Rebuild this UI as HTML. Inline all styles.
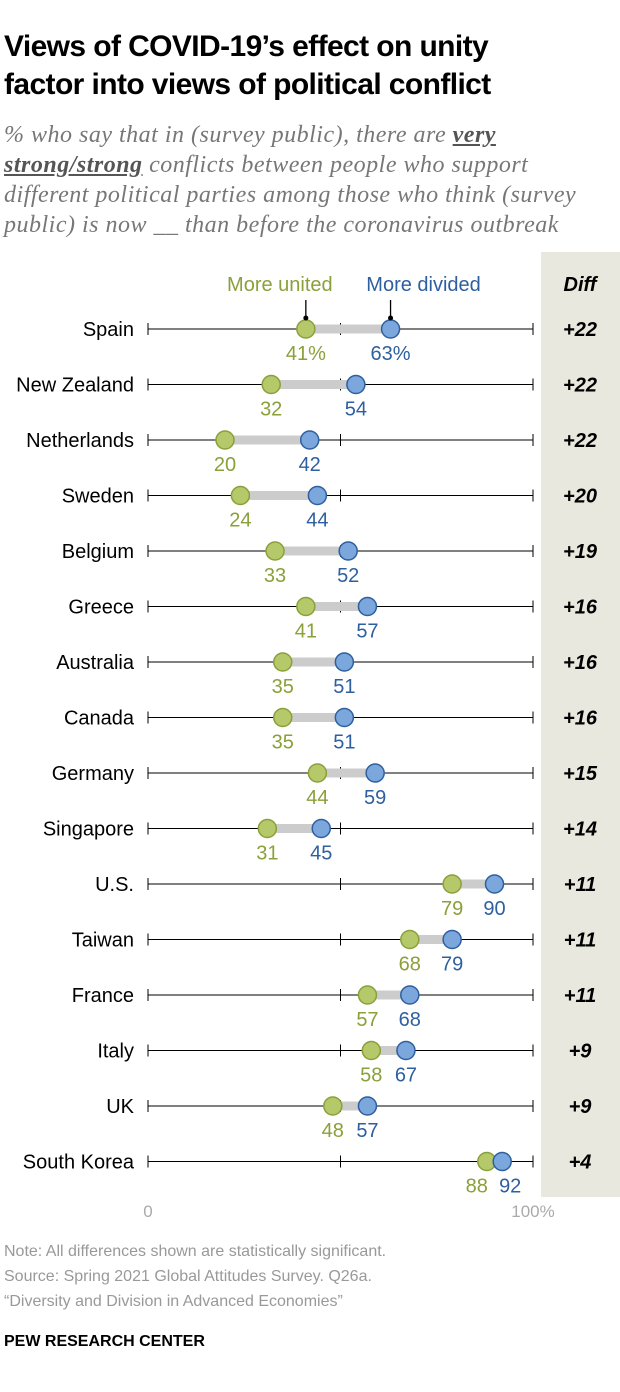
<!DOCTYPE html>
<html><head><meta charset="utf-8">
<style>
body{margin:0;background:#fff;width:620px;height:1392px;overflow:hidden;font-family:"Liberation Sans",sans-serif;position:relative}
.t{position:absolute;left:4px;top:28px;font-size:30px;font-weight:bold;line-height:38px;color:#000;letter-spacing:-0.6px}
.s{position:absolute;left:4px;top:120px;font-size:24px;font-style:italic;line-height:30px;color:#777;font-family:"Liberation Serif",serif;white-space:nowrap;letter-spacing:0.5px}
.s b{text-decoration:underline;color:#555}
.n{position:absolute;left:4px;font-size:16px;color:#999}
</style></head><body>
<div class="t">Views of COVID-19’s effect on unity<br>factor into views of political conflict</div>
<div class="s">% who say that in (survey public), there are <b>very</b><br><b>strong/strong</b> conflicts between people who support<br>different political parties among those who think (survey<br>public) is now __ than before the coronavirus outbreak</div>
<svg id="c" width="620" height="1392" style="position:absolute;left:0;top:0"></svg>
<div class="n" style="top:1243px">Note: All differences shown are statistically significant.</div>
<div class="n" style="top:1268px">Source: Spring 2021 Global Attitudes Survey. Q26a.</div>
<div class="n" style="top:1293px">“Diversity and Division in Advanced Economies”</div>
<div class="n" style="top:1333px;color:#000;font-weight:bold;font-size:16px">PEW RESEARCH CENTER</div>
<script>
const countries=["Spain","New Zealand","Netherlands","Sweden","Belgium","Greece","Australia","Canada","Germany","Singapore","U.S.","Taiwan","France","Italy","UK","South Korea"];
const united=[41,32,20,24,33,41,35,35,44,31,79,68,57,58,48,88];
const divided=[63,54,42,44,52,57,51,51,59,45,90,79,68,67,57,92];
const diffs=["+22","+22","+22","+20","+19","+16","+16","+16","+15","+14","+11","+11","+11","+9","+9","+4"];
const ticks=["0","100%"];
const NS="http://www.w3.org/2000/svg";
const svg=document.getElementById('c');
const x=v=>148+v*3.85;
const y=i=>329+i*55.5;
function mk(t,a,txt){const e=document.createElementNS(NS,t);for(const k in a)e.setAttribute(k,a[k]);if(txt!==undefined)e.textContent=txt;svg.appendChild(e);return e;}
const bg=mk('rect',{x:541,y:252,width:79,height:945,fill:'#e8e8de'});


const dh=mk('text',{x:580,y:291,'font-size':20,'font-weight':'bold','font-style':'italic','text-anchor':'middle'},'Diff');


const lu=mk('text',{x:x(41)-26,y:291,'font-size':20,fill:'#8aa03a','text-anchor':'middle'},'More united');


const ld=mk('text',{x:x(63)+33,y:291,'font-size':20,fill:'#2e5f9e','text-anchor':'middle'},'More divided');


mk('line',{x1:x(41),x2:x(41),y1:300,y2:318,stroke:'#000','stroke-width':1.3});
mk('line',{x1:x(63),x2:x(63),y1:300,y2:318,stroke:'#000','stroke-width':1.3});
countries.forEach((c,i)=>{
  const yy=y(i);
  const g=document.createElementNS(NS,'g');svg.appendChild(g);
  
  
  const a=(t,at,txt)=>{const e=document.createElementNS(NS,t);for(const k in at)e.setAttribute(k,at[k]);if(txt!==undefined)e.textContent=txt;g.appendChild(e);return e;};
  a('text',{x:134,y:yy+7,'font-size':20,'text-anchor':'end'},c);
  a('line',{x1:x(0),x2:x(100),y1:yy,y2:yy,stroke:'#000','stroke-width':1});
  [0,50,100].forEach(v=>a('line',{x1:x(v),x2:x(v),y1:yy-6,y2:yy+6,stroke:'#000','stroke-width':1}));
  a('line',{x1:x(united[i]),x2:x(divided[i]),y1:yy,y2:yy,stroke:'#ccc','stroke-width':9});
  const cu=a('circle',{cx:x(united[i]),cy:yy,r:9,fill:'#b5c86a',stroke:'#8aa03a','stroke-width':1.5});
  
  
  const cd=a('circle',{cx:x(divided[i]),cy:yy,r:9,fill:'#7ba7dd',stroke:'#2e5f9e','stroke-width':1.5});
  
  
  const close=Math.abs(divided[i]-united[i])<8;
  a('text',{x:x(united[i])-(close?10:0),y:yy+31,'font-size':20,fill:'#8aa03a','text-anchor':'middle'},united[i]+(i==0?'%':''));
  a('text',{x:x(divided[i])+(close?8:0),y:yy+31,'font-size':20,fill:'#2e5f9e','text-anchor':'middle'},divided[i]+(i==0?'%':''));
  if(i==0){a('circle',{cx:x(united[i]),cy:yy-11,r:2.5,fill:'#000'});a('circle',{cx:x(divided[i]),cy:yy-11,r:2.5,fill:'#000'});}
  a('text',{x:580,y:yy+7,'font-size':20,'font-weight':'bold','font-style':'italic','text-anchor':'middle'},diffs[i]);
});
const t0=mk('text',{x:x(0),y:1217,'font-size':17,fill:'#aaa','text-anchor':'middle'},ticks[0]);


const t1=mk('text',{x:x(100),y:1217,'font-size':17,fill:'#aaa','text-anchor':'middle'},ticks[1]);


</script>
</body></html>
